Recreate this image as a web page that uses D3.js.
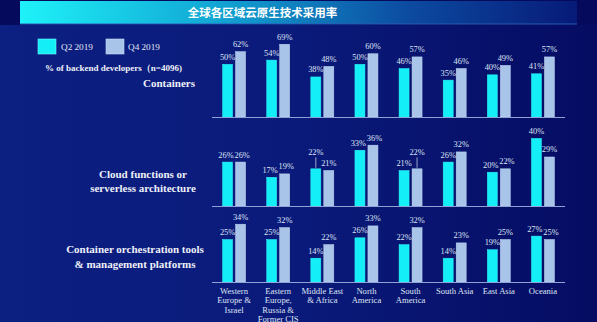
<!DOCTYPE html>
<html><head><meta charset="utf-8">
<script src="https://cdn.jsdelivr.net/npm/d3@7/dist/d3.min.js"></script>
<style>html,body{margin:0;padding:0;background:#07106a;}svg{display:block;}</style>
</head><body>
<svg id="c" width="597" height="322"></svg>
<script>
const title = "全球各区域云原生技术采用率";
const seriesNames = ["Q2 2019", "Q4 2019"];
const regions = ["Western Europe & Israel", "Eastern Europe, Russia & Former CIS", "Middle East & Africa", "North America", "South America", "South Asia", "East Asia", "Oceania"];
const regionLines = [["Western","Europe &","Israel"],["Eastern","Europe,","Russia &","Former CIS"],["Middle East","& Africa"],["North","America"],["South","America"],["South Asia"],["East Asia"],["Oceania"]];
const panels = ["Containers", "Cloud functions or serverless architecture", "Container orchestration tools & management platforms"];
const panelLines = [["Containers"],["Cloud functions or","serverless architecture"],["Container orchestration tools","& management platforms"]];
const containersQ2 = [50, 54, 38, 50, 46, 35, 40, 41];
const containersQ4 = [62, 69, 48, 60, 57, 46, 49, 57];
const serverlessQ2 = [26, 17, 22, 33, 21, 26, 20, 40];
const serverlessQ4 = [26, 19, 21, 36, 22, 32, 22, 29];
const orchestrationQ2 = [25, 25, 14, 26, 22, 14, 19, 27];
const orchestrationQ4 = [34, 32, 22, 33, 32, 23, 25, 25];
const subtitle = "% of backend developers（n=4096)";
// labels drawn raised with a leader line: [panel, region, series]
const callouts = [[1, 2, 0], [1, 4, 1]];

const panelData = [[containersQ2, containersQ4],[serverlessQ2, serverlessQ4],[orchestrationQ2, orchestrationQ4]];
const svg = d3.select("#c");
const W = 597, H = 322;
const defs = svg.append("defs");
const bg = defs.append("linearGradient").attr("id","bg").attr("x1","0").attr("x2","1").attr("y1","0").attr("y2","0");
bg.append("stop").attr("offset","0").attr("stop-color","#0c2082");
bg.append("stop").attr("offset","0.5").attr("stop-color","#0a1a7a");
bg.append("stop").attr("offset","1").attr("stop-color","#050c62");
const tb = defs.append("linearGradient").attr("id","tb").attr("x1","0").attr("x2","1").attr("y1","0").attr("y2","0");
tb.append("stop").attr("offset","0").attr("stop-color","#1ef2f8");
tb.append("stop").attr("offset","0.35").attr("stop-color","#12a6d4");
tb.append("stop").attr("offset","0.7").attr("stop-color","#0c4aa0");
tb.append("stop").attr("offset","1").attr("stop-color","#071a78");

svg.append("rect").attr("width",W).attr("height",H).attr("fill","url(#bg)");
svg.append("rect").attr("x",0).attr("y",0).attr("width",W).attr("height",25).attr("fill","#050a5c");
svg.append("rect").attr("x",20).attr("y",1).attr("width",557).attr("height",23).attr("fill","url(#tb)");
svg.append("line").attr("x1",20).attr("x2",577).attr("y1",24).attr("y2",24).attr("stroke","#2a5ab8").attr("stroke-width",1);
svg.append("text").attr("x",262.5).attr("y",17).attr("text-anchor","middle")
  .attr("font-family","'Noto Sans CJK SC', sans-serif").attr("font-weight","bold").attr("font-size",11.5)
  .attr("fill","#ffffff").text(title);

const colors = ["#14eef6", "#a8c5e9"];
const serif = "'Liberation Serif', 'Times New Roman', serif";

// legend
const leg = svg.append("g");
[[38,61],[106,128]].forEach((p,i)=>{
  leg.append("rect").attr("x",p[0]).attr("y",39).attr("width",18).attr("height",15).attr("fill",colors[i]).attr("stroke", i? "#c8d8f2":"#6ff8ff").attr("stroke-width",0.6);
  leg.append("text").attr("x",p[1]).attr("y",50).attr("font-family",serif).attr("font-size",9.2).attr("fill","#e4e8f4").text(seriesNames[i]);
});
svg.append("text").attr("x",45).attr("y",71).attr("font-family",serif).attr("font-weight","bold").attr("font-size",9).attr("fill","#eef0f8").text(subtitle);

const x = d3.scaleBand().domain(regions).range([212,565]);
const bw = x.bandwidth();
const x1 = d3.scaleBand().domain(seriesNames).range([(bw-23)/2,(bw+23)/2]).paddingInner(0.23);

const baselines = [117, 206, 282];
const pxPer = [1.054, 1.69, 1.7];
const panelLabelPos = [[{x:169,y:87}],[{x:143,y:178},{x:143,y:192}],[{x:135,y:253},{x:135,y:268}]];

panels.forEach((pn, pi)=>{
  const base = baselines[pi];
  const y = d3.scaleLinear().domain([0,100]).range([base, base - 100*pxPer[pi]]);
  const g = svg.append("g");
  const labY = (pi2, i, si, d) => {
    const isC = callouts.some(c=>c[0]===pi2&&c[1]===i&&c[2]===si);
    return y(d) - 4.5 - (isC?9:0);
  };
  panelData[pi].forEach((vals, si)=>{
    g.selectAll(null).data(vals).join("rect")
      .attr("x",(d,i)=>x(regions[i])+x1(seriesNames[si]))
      .attr("y",d=>y(d)).attr("width",x1.bandwidth()).attr("height",d=>base-y(d))
      .attr("fill",colors[si]).attr("stroke", si? "#c4d6f2":"#30f4fa").attr("stroke-width",0.5);
    g.selectAll(null).data(vals).join("text")
      .each(function(d,i){
        let cx = x(regions[i])+x1(seriesNames[si])+x1.bandwidth()/2;
        const isC = callouts.some(c=>c[0]===pi&&c[1]===i&&c[2]===si);
        const ty = labY(pi, i, si, d);
        const other = panelData[pi][1-si][i];
        const oy = labY(pi, i, 1-si, other);
        if (Math.abs(oy-ty) < 9) cx += (si ? 1.6 : -1.6);
        d3.select(this).attr("x",cx).attr("y",ty);
        if(isC){
          g.append("line").attr("x1",cx).attr("x2",cx).attr("y1",ty+2).attr("y2",y(d)-1).attr("stroke","#d8def0").attr("stroke-width",0.7);
        }
      })
      .attr("text-anchor","middle").attr("font-family",serif).attr("font-size",8.4).attr("fill","#dfe4f4")
      .text(d=>d+"%");
  });
  g.append("line").attr("x1",x.range()[0]).attr("x2",x.range()[1]).attr("y1",base+0.5).attr("y2",base+0.5)
    .attr("stroke","#8fa2d6").attr("stroke-width",1);
  panelLines[pi].forEach((t,li)=>{
    const p = panelLabelPos[pi][li];
    svg.append("text").attr("x",p.x).attr("y",p.y).attr("text-anchor","middle")
      .attr("font-family",serif).attr("font-weight","bold").attr("font-size",11).attr("fill","#eef0f8").text(t);
  });
});

// region labels
regions.forEach((r,i)=>{
  const cx = x(r)+bw/2;
  const t = svg.append("text").attr("text-anchor","middle").attr("font-family",serif).attr("font-size",8.6).attr("fill","#dfe4f4");
  regionLines[i].forEach((l,li)=>{
    t.append("tspan").attr("x",cx).attr("y",294+li*9.4).text(l);
  });
});
</script>
</body></html>
